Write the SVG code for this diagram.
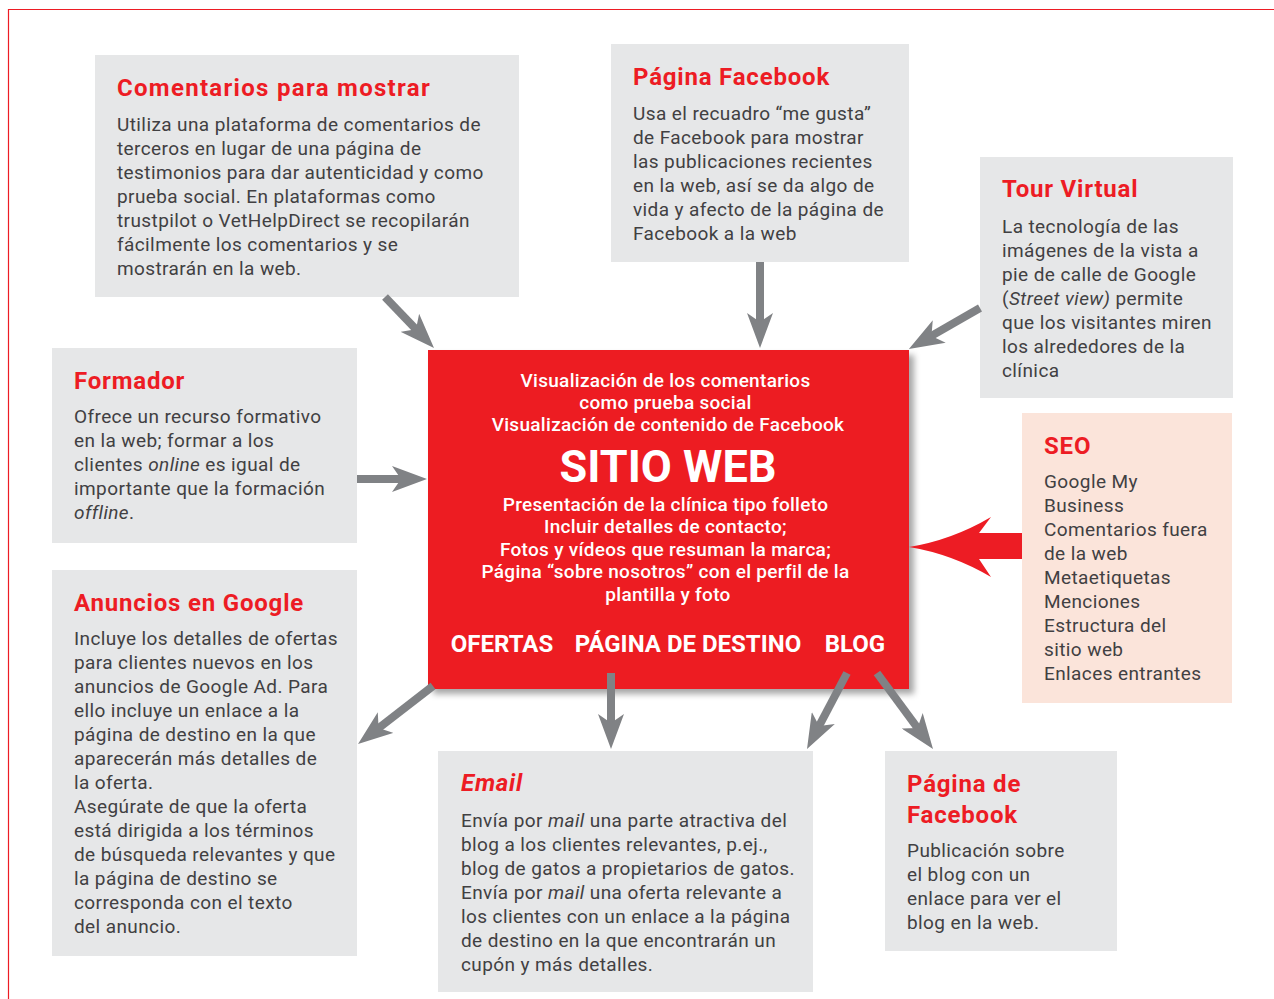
<svg xmlns="http://www.w3.org/2000/svg" width="1274" height="999" viewBox="0 0 1274 999">
  <style>
    .box { fill: #e6e7e8; }
    .seo { fill: #fbe4da; }
    .title { font-family: Roboto, "Liberation Sans", sans-serif; font-weight: 700; font-size: 24px; fill: #ed1c24; letter-spacing: 0.8px; }
    .wide { letter-spacing: 1.3px; }
    .body { font-family: Roboto, "Liberation Sans", sans-serif; font-weight: 400; font-size: 19px; fill: #414042; letter-spacing: 0.4px; }
    .it { font-style: italic; }
    .core { font-family: Roboto, "Liberation Sans", sans-serif; font-weight: 500; font-size: 19px; fill: #ffffff; text-anchor: middle; letter-spacing: 0.3px; }
    .big { font-family: Roboto, "Liberation Sans", sans-serif; font-weight: 700; font-size: 45px; fill: #ffffff; text-anchor: middle; }
    .tag { font-family: Roboto, "Liberation Sans", sans-serif; font-weight: 700; font-size: 24px; fill: #ffffff; text-anchor: middle; }
    .link { stroke: #808285; stroke-width: 8; fill: none; marker-end: url(#head); }
  </style>
  <defs>
    <marker id="head" markerUnits="userSpaceOnUse" viewBox="0 0 35 26" markerWidth="35" markerHeight="26" refX="20" refY="13" orient="auto">
      <path d="M0,0 L35,13 L0,26 L9,13 Z" fill="#808285"/>
    </marker>
    <filter id="shadow" x="-10%" y="-10%" width="125%" height="125%">
      <feDropShadow dx="5" dy="5" stdDeviation="3" flood-color="#000000" flood-opacity="0.35"/>
    </filter>
  </defs>

  <rect width="1274" height="999" fill="#ffffff"/>
  <!-- page frame -->
  <path d="M8.5,999 V9.5 H1274" fill="none" stroke="#ed1c24" stroke-width="1.2"/>

  <g id="comentarios">
    <rect class="box" x="95" y="55" width="424" height="242"/>
    <text class="title wide" x="117" y="96">Comentarios para mostrar</text>
    <text class="body" x="117">
      <tspan x="117" y="131">Utiliza una plataforma de comentarios de</tspan>
      <tspan x="117" y="155">terceros en lugar de una página de</tspan>
      <tspan x="117" y="179">testimonios para dar autenticidad y como</tspan>
      <tspan x="117" y="203">prueba social. En plataformas como</tspan>
      <tspan x="117" y="227">trustpilot o VetHelpDirect se recopilarán</tspan>
      <tspan x="117" y="251">fácilmente los comentarios y se</tspan>
      <tspan x="117" y="275">mostrarán en la web.</tspan>
    </text>
  </g>

  <g id="pagina-facebook">
    <rect class="box" x="611" y="44" width="298" height="218"/>
    <text class="title" x="633" y="85">Página Facebook</text>
    <text class="body">
      <tspan x="633" y="120">Usa el recuadro “me gusta”</tspan>
      <tspan x="633" y="144">de Facebook para mostrar</tspan>
      <tspan x="633" y="168">las publicaciones recientes</tspan>
      <tspan x="633" y="192">en la web, así se da algo de</tspan>
      <tspan x="633" y="216">vida y afecto de la página de</tspan>
      <tspan x="633" y="240">Facebook a la web</tspan>
    </text>
  </g>

  <g id="tour-virtual">
    <rect class="box" x="980" y="157" width="253" height="241"/>
    <text class="title" x="1002" y="197">Tour Virtual</text>
    <text class="body">
      <tspan x="1002" y="233">La tecnología de las</tspan>
      <tspan x="1002" y="257">imágenes de la vista a</tspan>
      <tspan x="1002" y="281">pie de calle de Google</tspan>
      <tspan x="1002" y="305">(<tspan class="it">Street view)</tspan> permite</tspan>
      <tspan x="1002" y="329">que los visitantes miren</tspan>
      <tspan x="1002" y="353">los alrededores de la</tspan>
      <tspan x="1002" y="377">clínica</tspan>
    </text>
  </g>

  <g id="seo">
    <rect class="seo" x="1022" y="413" width="210" height="290"/>
    <text class="title" x="1044" y="454">SEO</text>
    <text class="body">
      <tspan x="1044" y="488">Google My</tspan>
      <tspan x="1044" y="512">Business</tspan>
      <tspan x="1044" y="536">Comentarios fuera</tspan>
      <tspan x="1044" y="560">de la web</tspan>
      <tspan x="1044" y="584">Metaetiquetas</tspan>
      <tspan x="1044" y="608">Menciones</tspan>
      <tspan x="1044" y="632">Estructura del</tspan>
      <tspan x="1044" y="656">sitio web</tspan>
      <tspan x="1044" y="680">Enlaces entrantes</tspan>
    </text>
  </g>

  <g id="formador">
    <rect class="box" x="52" y="348" width="305" height="195"/>
    <text class="title" x="74" y="389">Formador</text>
    <text class="body">
      <tspan x="74" y="423">Ofrece un recurso formativo</tspan>
      <tspan x="74" y="447">en la web; formar a los</tspan>
      <tspan x="74" y="471">clientes <tspan class="it">online</tspan> es igual de</tspan>
      <tspan x="74" y="495">importante que la formación</tspan>
      <tspan x="74" y="519"><tspan class="it">offline</tspan>.</tspan>
    </text>
  </g>

  <g id="anuncios-google">
    <rect class="box" x="52" y="570" width="305" height="386"/>
    <text class="title" x="74" y="611">Anuncios en Google</text>
    <text class="body">
      <tspan x="74" y="645">Incluye los detalles de ofertas</tspan>
      <tspan x="74" y="669">para clientes nuevos en los</tspan>
      <tspan x="74" y="693">anuncios de Google Ad. Para</tspan>
      <tspan x="74" y="717">ello incluye un enlace a la</tspan>
      <tspan x="74" y="741">página de destino en la que</tspan>
      <tspan x="74" y="765">aparecerán más detalles de</tspan>
      <tspan x="74" y="789">la oferta.</tspan>
      <tspan x="74" y="813">Asegúrate de que la oferta</tspan>
      <tspan x="74" y="837">está dirigida a los términos</tspan>
      <tspan x="74" y="861">de búsqueda relevantes y que</tspan>
      <tspan x="74" y="885">la página de destino se</tspan>
      <tspan x="74" y="909">corresponda con el texto</tspan>
      <tspan x="74" y="933">del anuncio.</tspan>
    </text>
  </g>

  <g id="email">
    <rect class="box" x="438" y="751" width="375" height="241"/>
    <text class="title it" x="461" y="791">Email</text>
    <text class="body">
      <tspan x="461" y="827">Envía por <tspan class="it">mail</tspan> una parte atractiva del</tspan>
      <tspan x="461" y="851">blog a los clientes relevantes, p.ej.,</tspan>
      <tspan x="461" y="875">blog de gatos a propietarios de gatos.</tspan>
      <tspan x="461" y="899">Envía por <tspan class="it">mail</tspan> una oferta relevante a</tspan>
      <tspan x="461" y="923">los clientes con un enlace a la página</tspan>
      <tspan x="461" y="947">de destino en la que encontrarán un</tspan>
      <tspan x="461" y="971">cupón y más detalles.</tspan>
    </text>
  </g>

  <g id="pagina-de-facebook">
    <rect class="box" x="885" y="751" width="232" height="200"/>
    <text class="title">
      <tspan x="907" y="792">Página de</tspan>
      <tspan x="907" y="823">Facebook</tspan>
    </text>
    <text class="body">
      <tspan x="907" y="857">Publicación sobre</tspan>
      <tspan x="907" y="881">el blog con un</tspan>
      <tspan x="907" y="905">enlace para ver el</tspan>
      <tspan x="907" y="929">blog en la web.</tspan>
    </text>
  </g>

  <g id="sitio-web">
    <rect x="428" y="350" width="481" height="339" fill="#ed1c24" filter="url(#shadow)"/>
    <text class="core">
      <tspan x="668" y="387">Visualización de los comentarios</tspan>
      <tspan x="668" y="409">como prueba social</tspan>
      <tspan x="668" y="431">Visualización de contenido de Facebook</tspan>
    </text>
    <text class="big" x="668" y="482">SITIO WEB</text>
    <text class="core">
      <tspan x="668" y="511">Presentación de la clínica tipo folleto</tspan>
      <tspan x="668" y="533">Incluir detalles de contacto;</tspan>
      <tspan x="668" y="556">Fotos y vídeos que resuman la marca;</tspan>
      <tspan x="668" y="578">Página “sobre nosotros” con el perfil de la</tspan>
      <tspan x="668" y="601">plantilla y foto</tspan>
    </text>
    <text class="tag" x="502" y="652">OFERTAS</text>
    <text class="tag" x="688" y="652">PÁGINA DE DESTINO</text>
    <text class="tag" x="855" y="652">BLOG</text>
  </g>

  <g id="connectors">
    <line class="link" x1="385" y1="297" x2="423.6" y2="337.2"/>
    <line class="link" x1="760" y1="262" x2="760" y2="333"/>
    <line class="link" x1="980" y1="308" x2="921.9" y2="341.4"/>
    <line class="link" x1="357" y1="479" x2="412" y2="479"/>
    <line class="link" x1="433" y1="686" x2="369.9" y2="734.8"/>
    <line class="link" x1="611" y1="673" x2="611" y2="734"/>
    <line class="link" x1="847" y1="673" x2="814" y2="735.7"/>
    <line class="link" x1="877" y1="673" x2="924.1" y2="736.9"/>
    <!-- SEO feeds the site: bold red arrow -->
    <path d="M909,547 Q952,540 991,517 L979,533 L1022,533 L1022,559 L979,559 L991,577 Q952,554 909,547 Z" fill="#ed1c24"/>
  </g>
</svg>
